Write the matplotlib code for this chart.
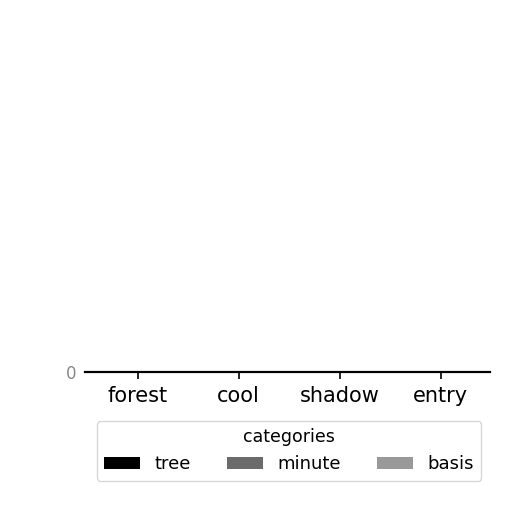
import numpy as np
import matplotlib
matplotlib.use('Agg')
import matplotlib.pyplot as plt

# data: every bar sits on zero
categories = ['forest', 'cool', 'shadow', 'entry']
series_names = ['tree', 'minute', 'basis']
tree = [0, 0, 0, 0]
minute = [0, 0, 0, 0]
basis = [0, 0, 0, 0]
colors = ['#000000', '#6b6b6b', '#999999']

fig = plt.figure(figsize=(5.12, 5.12), dpi=100)
ax = fig.add_axes([85 / 512, 140 / 512, 405 / 512, 0.68])

x = np.arange(len(categories))
width = 0.27
for i, (name, vals) in enumerate(zip(series_names, [tree, minute, basis])):
    ax.bar(x + (i - 1) * width, vals, width, color=colors[i], label=name)

ax.set_xlim(-0.52, 3.49)
ax.set_ylim(0, 1)
ax.set_yticks([0])
ax.set_xticks(x)
ax.set_xticklabels(categories, fontsize=15)
ax.tick_params(axis='y', colors='#888888', labelsize=12, length=0, pad=6)
ax.tick_params(axis='x', length=5, width=1.2, pad=5)
for side in ['top', 'right', 'left']:
    ax.spines[side].set_visible(False)
ax.spines['bottom'].set_linewidth(1.6)

leg = fig.legend(loc='upper center', bbox_to_anchor=(289 / 512, 1 - 412 / 512),
                 ncol=3, title='categories', fontsize=13, title_fontsize=12.5,
                 frameon=True, fancybox=True, edgecolor='#cccccc')

fig.savefig('out.png', dpi=100)
